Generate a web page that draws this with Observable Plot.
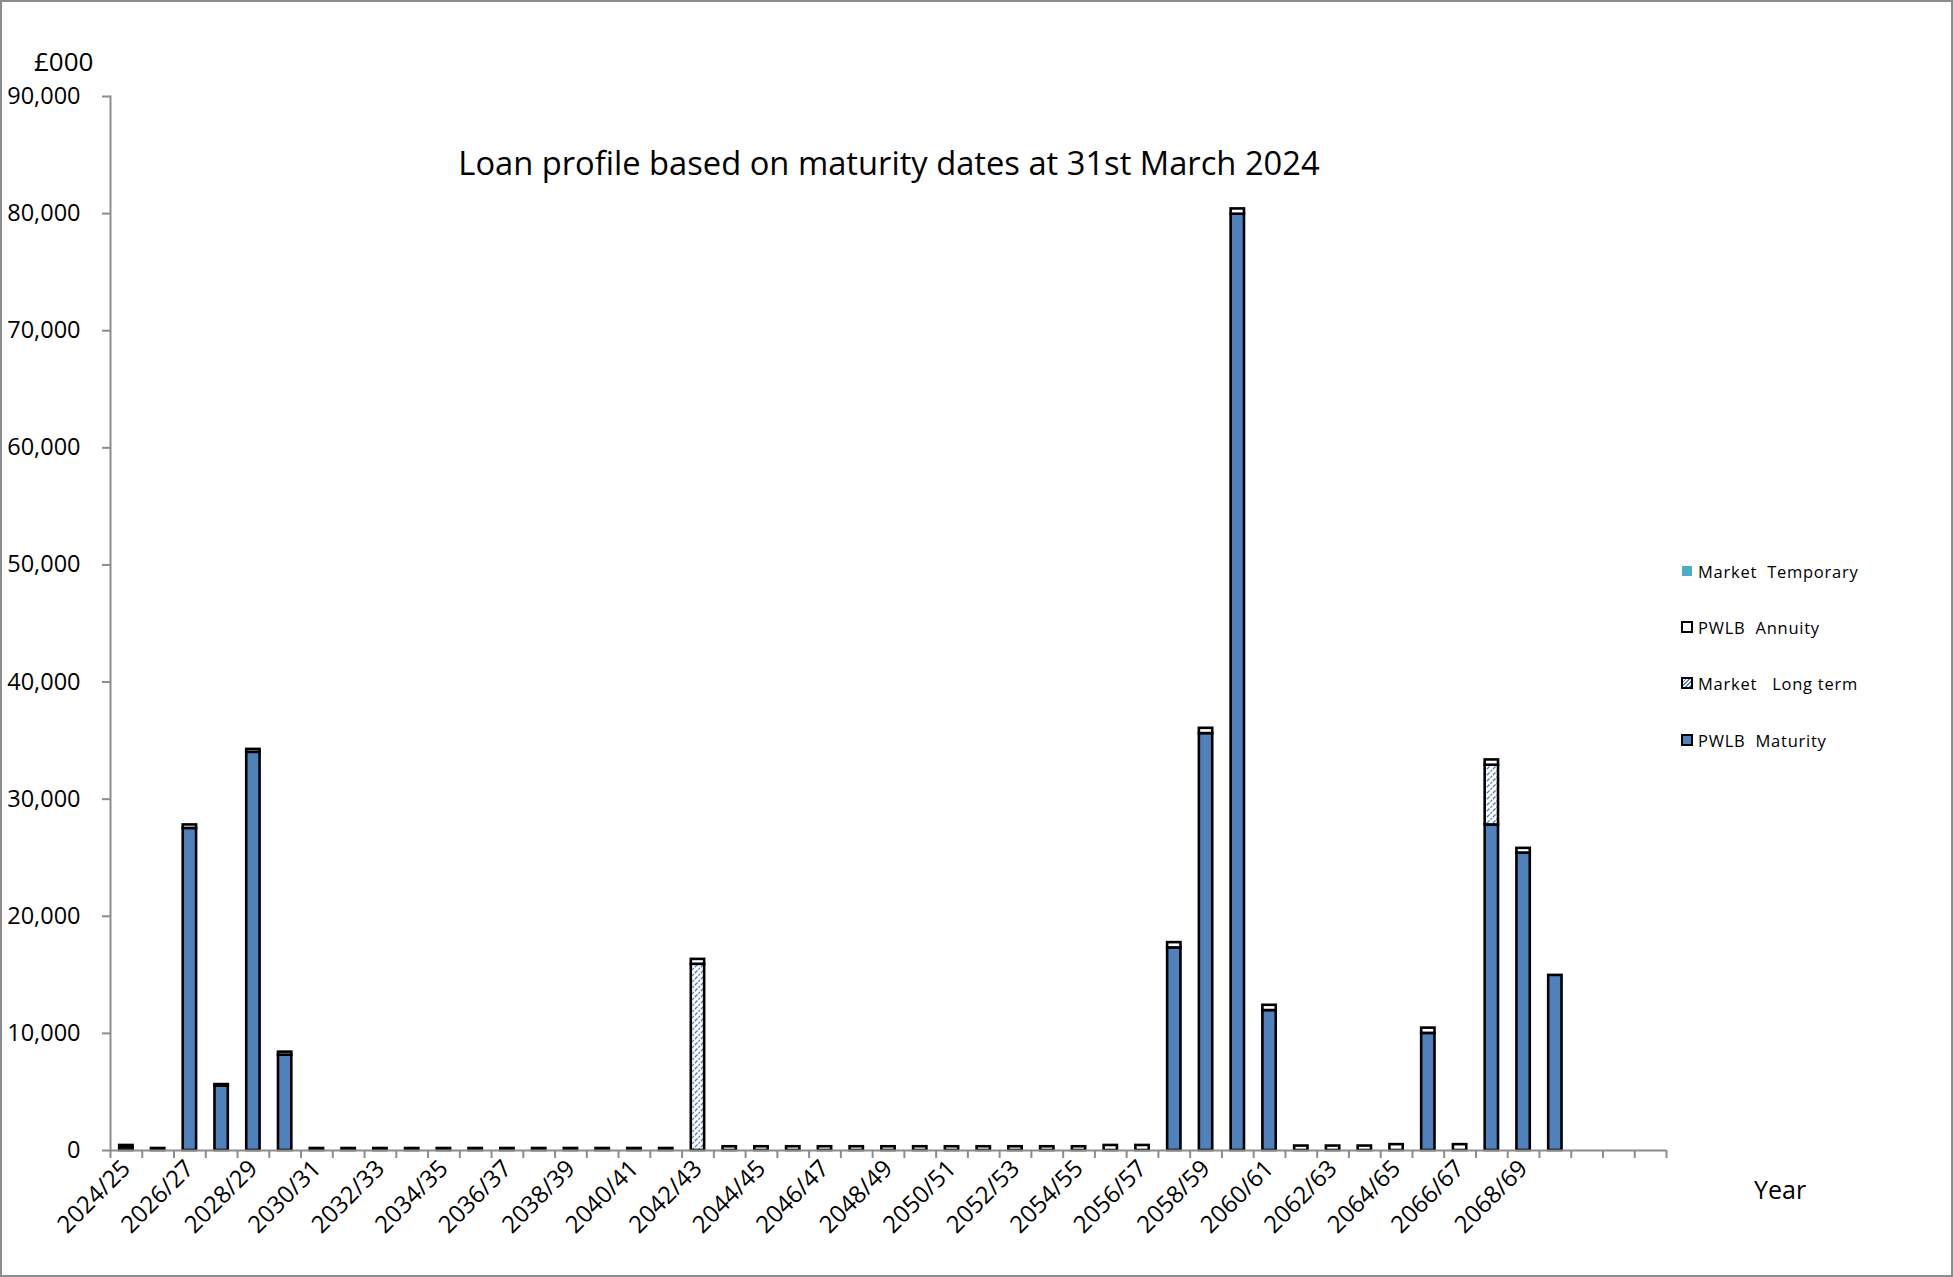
<!DOCTYPE html>
<html>
<head>
<meta charset="utf-8">
<script src="https://cdn.jsdelivr.net/npm/d3@7"></script>
<script src="https://cdn.jsdelivr.net/npm/@observablehq/plot@0.6"></script>
<style>
  html, body { margin: 0; padding: 0; background: #fff; }
  #wrap { position: relative; width: 1953px; height: 1277px; overflow: hidden; font-family: "Open Sans", sans-serif; color: #000; background: #fff; }
  #chart { position: absolute; left: 0; top: 0; }
  #frame { position: absolute; left: 0; top: 0; width: 1953px; height: 1277px; box-sizing: border-box; border: 2px solid #8c8c8c; pointer-events: none; }
  .txt { position: absolute; line-height: 1; white-space: pre; }
  #unit { left: 34px; top: 48px; font-size: 26px; }
  #title { left: 889px; top: 147px; font-size: 32.7px; transform: translateX(-50%); }
  #yearLabel { left: 1754px; top: 1177px; font-size: 25px; }
  .leg { position: absolute; left: 1681px; height: 20px; display: flex; align-items: center; font-size: 16.5px; letter-spacing: 0.75px; white-space: pre; }
  .sw { width: 12px; height: 12px; box-sizing: border-box; margin-right: 5px; flex: none; }
</style>
</head>
<body>
<div id="wrap">
  <div id="chart"></div>
  <div class="txt" id="unit">£000</div>
  <div class="txt" id="title">Loan profile based on maturity dates at 31st March 2024</div>
  <div class="txt" id="yearLabel">Year</div>
  <div id="legend"></div>
  <div id="frame"></div>
</div>
<script>
// ---------------- DATA ----------------
const categories = [
  "2024/25","2025/26","2026/27","2027/28","2028/29","2029/30","2030/31","2031/32","2032/33","2033/34",
  "2034/35","2035/36","2036/37","2037/38","2038/39","2039/40","2040/41","2041/42","2042/43","2043/44",
  "2044/45","2045/46","2046/47","2047/48","2048/49","2049/50","2050/51","2051/52","2052/53","2053/54",
  "2054/55","2055/56","2056/57","2057/58","2058/59","2059/60","2060/61","2061/62","2062/63","2063/64",
  "2064/65","2065/66","2066/67","2067/68","2068/69","2069/70","2070/71","2071/72","2072/73"
];
// years that carry data (the last three categories are empty in the original)
const dataYears = categories.slice(0, 46);

const pwlbMaturity = [
  250, 0, 27500, 5500, 34000, 8150, 0, 0, 0, 0,
  0, 0, 0, 0, 0, 0, 0, 0, 0, 0,
  0, 0, 0, 0, 0, 0, 0, 0, 0, 0,
  0, 0, 0, 17300, 35600, 79950, 11950, 0, 0, 0,
  0, 10000, 0, 27800, 25400, 14950
];
const marketLongTerm = [
  0, 0, 0, 0, 0, 0, 0, 0, 0, 0,
  0, 0, 0, 0, 0, 0, 0, 0, 15900, 0,
  0, 0, 0, 0, 0, 0, 0, 0, 0, 0,
  0, 0, 0, 0, 0, 0, 0, 0, 0, 0,
  0, 0, 0, 5100, 0, 0
];
const pwlbAnnuity = [
  180, 170, 300, 130, 250, 250, 170, 170, 170, 170,
  170, 170, 170, 170, 170, 170, 170, 170, 420, 320,
  320, 320, 320, 320, 320, 320, 320, 320, 320, 320,
  320, 430, 430, 450, 450, 450, 450, 380, 380, 380,
  500, 450, 500, 450, 400, 0
];
const marketTemporary = [
  0, 0, 0, 0, 0, 0, 0, 0, 0, 0,
  0, 0, 0, 0, 0, 0, 0, 0, 0, 0,
  0, 0, 0, 0, 0, 0, 0, 0, 0, 0,
  0, 0, 0, 0, 0, 0, 0, 0, 0, 0,
  0, 0, 0, 0, 0, 0
];
const seriesNames = ["PWLB Maturity", "Market Long term", "PWLB Annuity", "Market Temporary"];
const legendOrder = ["Market  Temporary", "PWLB  Annuity", "Market   Long term", "PWLB  Maturity"];
const yTicks = [0, 10000, 20000, 30000, 40000, 50000, 60000, 70000, 80000, 90000];

// ---------------- BUILD ----------------
const seriesValues = [pwlbMaturity, marketLongTerm, pwlbAnnuity, marketTemporary];
const rows = [];
dataYears.forEach((yr, i) => {
  seriesNames.forEach((s, k) => {
    const v = seriesValues[k][i];
    if (v > 0) rows.push({year: yr, series: s, value: v});
  });
});

const W = 1953, H = 1277, mL = 110, mR = 287, mT = 96, mB = 127;
const step = (W - mL - mR) / categories.length;
const tickLabel = d => {
  const i = categories.indexOf(d);
  return (i < dataYears.length && i % 2 === 0) ? d : "";
};
const axisGray = "#8c8c8c";

const chart = Plot.plot({
  width: W, height: H,
  marginLeft: mL, marginRight: mR, marginTop: mT, marginBottom: mB,
  style: {fontFamily: "Open Sans", fontSize: "24px", color: "#000", background: "transparent", overflow: "visible"},
  x: {type: "band", domain: categories, paddingInner: 0.58, paddingOuter: 0.29, align: 0.5, label: null},
  y: {domain: [0, 90000], label: null},
  color: {domain: seriesNames, range: ["#4F81BD", "url(#hatch)", "#FFFFFF", "#4BACC6"]},
  marks: [
    Plot.barY(rows, Plot.stackY({x: "year", y: "value", fill: "series", stroke: "#000", strokeWidth: 2.6})),
    Plot.frame({anchor: "left", stroke: axisGray, strokeWidth: 2}),
    Plot.ruleY([0], {stroke: axisGray, strokeWidth: 2}),
    Plot.axisY({ticks: yTicks, tickFormat: d3.format(","), tickSize: 8, tickPadding: 22, stroke: axisGray, strokeWidth: 2, fill: "#000", fontSize: 23.5, label: null}),
    Plot.axisX({ticks: categories, tickFormat: () => "", tickSize: 8, dx: -step / 2, stroke: axisGray, strokeWidth: 2, label: null}),
    Plot.axisX({ticks: [categories[categories.length - 1]], tickFormat: () => "", tickSize: 8, dx: step / 2, stroke: axisGray, strokeWidth: 2, label: null}),
    Plot.axisX({ticks: categories, tickFormat: tickLabel, tickSize: 0, tickPadding: 14, tickRotate: -45, fill: "#000", fontSize: 24, label: null})
  ]
});

// hatch pattern for "Market Long term"
d3.select(chart).insert("defs", ":first-child").html(
  `<pattern id="hatch" patternUnits="userSpaceOnUse" width="6" height="6">
     <rect width="6" height="6" fill="#ffffff"/>
     <path d="M-1,1 l2,-2 M0,6 l6,-6 M5,7 l2,-2" stroke="#4F81BD" stroke-width="1.3" stroke-dasharray="2.2,1.2"/>
   </pattern>`
);
document.getElementById("chart").appendChild(chart);

// legend
const legendStyles = [
  {background: "#4BACC6", border: "none", width: "10px", height: "10px", margin: "0 6px 0 1px"},
  {background: "#ffffff", border: "2px solid #000"},
  {border: "2px solid #000", hatch: true},
  {background: "#4F81BD", border: "2px solid #000"}
];
const legendY = [561, 617, 673, 730];
const legend = document.getElementById("legend");
legendOrder.forEach((name, i) => {
  const row = document.createElement("div");
  row.className = "leg";
  row.style.top = legendY[i] + "px";
  const sw = document.createElement("div");
  sw.className = "sw";
  const st = legendStyles[i];
  sw.style.border = st.border;
  if (st.hatch) {
    sw.style.background = "repeating-linear-gradient(135deg, #ffffff 0px, #ffffff 1.5px, #4F81BD 1.5px, #4F81BD 2.7px)";
  } else {
    sw.style.background = st.background;
  }
  if (st.width) { sw.style.width = st.width; sw.style.height = st.height; sw.style.margin = st.margin; }
  const tx = document.createElement("span");
  tx.textContent = name;
  row.appendChild(sw);
  row.appendChild(tx);
  legend.appendChild(row);
});
</script>
</body>
</html>
